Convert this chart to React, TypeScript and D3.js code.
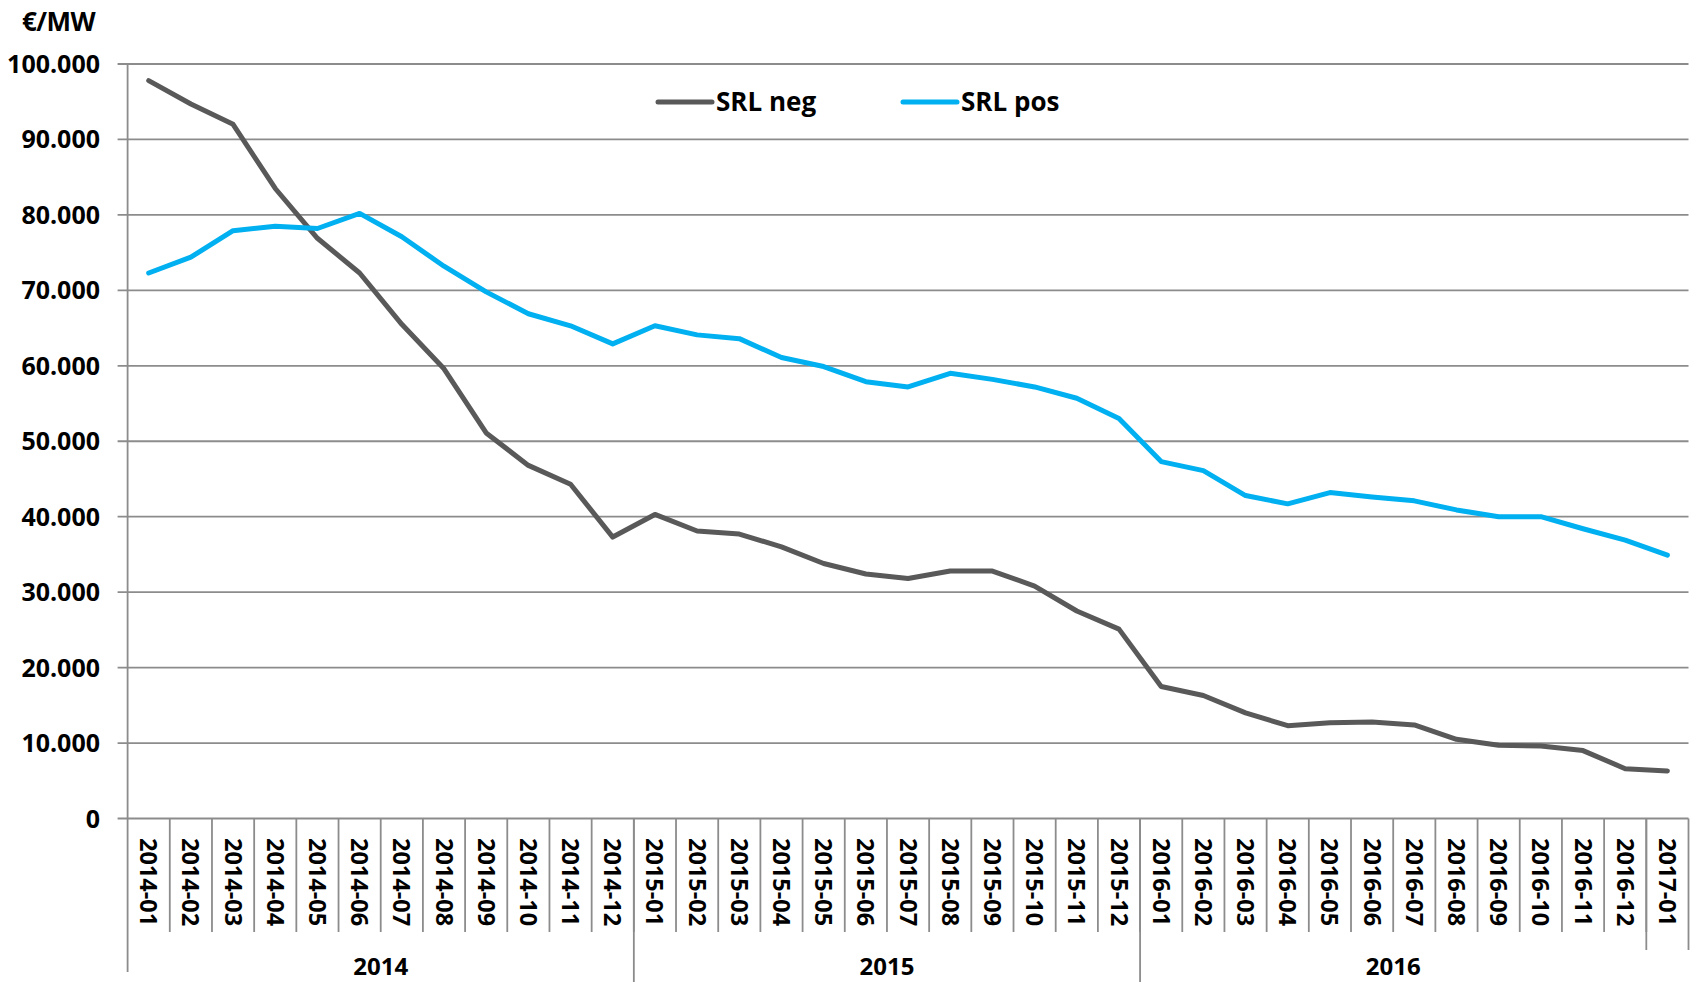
import React from "react";
import * as d3 from "d3";

const categories = [
  "2014-01","2014-02","2014-03","2014-04","2014-05","2014-06","2014-07","2014-08","2014-09","2014-10","2014-11","2014-12",
  "2015-01","2015-02","2015-03","2015-04","2015-05","2015-06","2015-07","2015-08","2015-09","2015-10","2015-11","2015-12",
  "2016-01","2016-02","2016-03","2016-04","2016-05","2016-06","2016-07","2016-08","2016-09","2016-10","2016-11","2016-12",
  "2017-01",
];

const srlNeg = [
  97800, 94700, 92000, 83500, 76900, 72300, 65500, 59600, 51100, 46800, 44300, 37300,
  40300, 38100, 37700, 36000, 33800, 32400, 31800, 32800, 32800, 30800, 27500, 25100,
  17500, 16300, 14000, 12300, 12700, 12800, 12400, 10500, 9700, 9600, 9000, 6600,
  6300,
];

const srlPos = [
  72300, 74400, 77900, 78500, 78200, 80200, 77100, 73200, 69800, 66900, 65300, 62900,
  65300, 64100, 63600, 61100, 59900, 57900, 57200, 59000, 58200, 57200, 55700, 53000,
  47300, 46100, 42800, 41700, 43200, 42600, 42100, 40900, 40000, 40000, 38400, 36900,
  34900,
];

const yTicks = [0, 10000, 20000, 30000, 40000, 50000, 60000, 70000, 80000, 90000, 100000];

const years = ["2014", "2015", "2016"];

const seriesNames = ["SRL neg", "SRL pos"];
const seriesColors = ["#595959", "#00b0f0"];

const W = 1696;
const H = 982;
const left = 127.6;
const right = 1688.5;
const top = 64;
const bottom = 818.5;
const FONT = "'Open Sans', 'DejaVu Sans', sans-serif";

export default function App() {
  const x = d3.scaleBand<string>().domain(categories).range([left, right]).paddingInner(0).paddingOuter(0);
  const y = d3.scaleLinear().domain([0, 100000]).range([bottom, top]);
  const fmt = (v: number) => (v === 0 ? "0" : d3.format(",")(v).replace(/,/g, "."));
  const line = d3
    .line<number>()
    .x((_, i) => (x(categories[i]) as number) + x.bandwidth() / 2)
    .y((d) => y(d));

  const bw = x.bandwidth();
  const gridColor = "#8c8c8c";

  const yearStart = years.map((yr) => categories.findIndex((c) => c.startsWith(yr)));
  const yearEnd = years.map((yr) => {
    let last = -1;
    categories.forEach((c, i) => {
      if (c.startsWith(yr)) last = i;
    });
    return last;
  });

  return (
    <div style={{ position: "fixed", left: 0, top: 0, width: W, height: H, background: "#fff" }}>
      <svg width={W} height={H} style={{ display: "block" }}>
        <rect x={0} y={0} width={W} height={H} fill="#fff" />
        {yTicks.map((t) => (
          <line key={"g" + t} x1={left - 10} x2={right} y1={y(t)} y2={y(t)} stroke={gridColor} strokeWidth={1.8} />
        ))}
        {yTicks.map((t) => (
          <text
            key={"yl" + t}
            x={100}
            y={y(t)}
            dy="0.36em"
            textAnchor="end"
            fontFamily={FONT}
            fontWeight={700}
            fontSize={25}
            fill="#000"
          >
            {fmt(t)}
          </text>
        ))}
        <text x={22} y={31} fontFamily={FONT} fontWeight={700} fontSize={26} fill="#000" letterSpacing={-0.5}>
          €/MW
        </text>
        <line x1={left} x2={left} y1={top} y2={972} stroke={gridColor} strokeWidth={1.8} />
        {categories.map((c, i) =>
          i === 0 ? null : (
            <line
              key={"s" + c}
              x1={x(c) as number}
              x2={x(c) as number}
              y1={bottom}
              y2={932}
              stroke={gridColor}
              strokeWidth={1.8}
            />
          )
        )}
        <line x1={right} x2={right} y1={bottom} y2={950} stroke={gridColor} strokeWidth={1.8} />
        <line
          x1={x(categories[categories.length - 1]) as number}
          x2={x(categories[categories.length - 1]) as number}
          y1={bottom}
          y2={950}
          stroke={gridColor}
          strokeWidth={1.8}
        />
        {years.map((yr, k) =>
          k === 0 ? null : (
            <line
              key={"yb" + yr}
              x1={x(categories[yearStart[k]]) as number}
              x2={x(categories[yearStart[k]]) as number}
              y1={bottom}
              y2={H}
              stroke={gridColor}
              strokeWidth={1.8}
            />
          )
        )}
        {categories.map((c) => {
          const cx = (x(c) as number) + bw / 2;
          return (
            <text
              key={"xl" + c}
              transform={`translate(${cx},838) rotate(90)`}
              dy="0.36em"
              textAnchor="start"
              fontFamily={FONT}
              fontWeight={700}
              fontSize={23.5}
              fill="#000"
            >
              {c}
            </text>
          );
        })}
        {years.map((yr, k) => {
          const x0 = x(categories[yearStart[k]]) as number;
          const x1 = (x(categories[yearEnd[k]]) as number) + bw;
          return (
            <text
              key={"yr" + yr}
              x={(x0 + x1) / 2}
              y={975}
              textAnchor="middle"
              fontFamily={FONT}
              fontWeight={700}
              fontSize={24}
              fill="#000"
            >
              {yr}
            </text>
          );
        })}
        {[srlNeg, srlPos].map((s, k) => (
          <path
            key={"p" + k}
            d={line(s) as string}
            fill="none"
            stroke={seriesColors[k]}
            strokeWidth={5}
            strokeLinejoin="round"
            strokeLinecap="round"
          />
        ))}
        {seriesNames.map((n, k) => {
          const lx = k === 0 ? 658 : 903;
          return (
            <g key={"lg" + n}>
              <line x1={lx} x2={lx + 54} y1={102} y2={102} stroke={seriesColors[k]} strokeWidth={5} strokeLinecap="round" />
              <text x={lx + 58} y={102} dy="0.36em" fontFamily={FONT} fontWeight={700} fontSize={26} fill="#000">
                {n}
              </text>
            </g>
          );
        })}
      </svg>
    </div>
  );
}
